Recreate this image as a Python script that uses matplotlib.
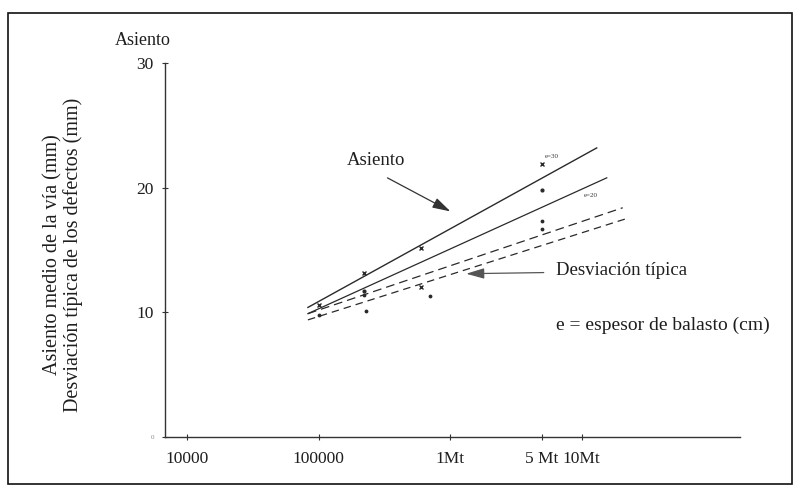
import matplotlib
matplotlib.use('Agg')
import matplotlib.pyplot as plt
import matplotlib.ticker as mticker
from matplotlib.patches import Rectangle

plt.rcParams['font.family'] = ['Liberation Serif', 'DejaVu Serif']

# fitted lines: tonnage (t) vs mm
e30_t = [8.3e4, 1.3e7]
e30_mm = [10.4, 23.2]
e20_t = [8.3e4, 1.55e7]
e20_mm = [9.9, 20.8]
desv_a_t = [8.3e4, 2.05e7]
desv_a_mm = [9.9, 18.4]
desv_b_t = [8.3e4, 2.3e7]
desv_b_mm = [9.4, 17.6]

# measured points
e30_pts_t = [1.0e5, 2.2e5, 6.0e5, 5.0e6]
e30_pts_mm = [10.6, 13.2, 15.2, 21.9]
e20_pts_t = [2.2e5, 5.0e6]
e20_pts_mm = [11.7, 19.8]
desv_pts_t = [1.0e5, 2.2e5, 2.3e5, 7.0e5, 5.0e6, 5.0e6]
desv_pts_mm = [9.8, 11.4, 10.1, 11.3, 17.3, 16.7]
desv_x_t = [6.0e5]
desv_x_mm = [12.0]

xticks = [1e4, 1e5, 1e6, 5e6, 1e7]
xtick_labels = ['10000', '100000', '1Mt', '5 Mt', '10Mt']
yticks = [0, 10, 20, 30]

ink = '#2a2a2a'
txt = '#1e1e1e'

fig = plt.figure(figsize=(7.95, 4.88), dpi=100)
ax = fig.add_axes([0.2075, 0.1045, 0.7235, 0.766])

ax.plot(e30_t, e30_mm, color=ink, lw=1.0)
ax.plot(e20_t, e20_mm, color=ink, lw=0.9)
ax.plot(desv_a_t, desv_a_mm, color=ink, lw=0.9, ls=(0, (7, 4)))
ax.plot(desv_b_t, desv_b_mm, color=ink, lw=0.9, ls=(0, (6, 4)))

ax.plot(e30_pts_t, e30_pts_mm, ls='none', marker='x', ms=3.5, mew=1.0, color=ink)
ax.plot(e20_pts_t, e20_pts_mm, ls='none', marker='.', ms=4, color=ink)
ax.plot(desv_pts_t, desv_pts_mm, ls='none', marker='.', ms=3.5, color=ink)
ax.plot(desv_x_t, desv_x_mm, ls='none', marker='x', ms=3.5, mew=1.0, color=ink)

ax.set_xscale('log')
ax.set_xlim(6.8e3, 1.6e8)
ax.set_ylim(0, 30)

ax.spines['top'].set_visible(False)
ax.spines['right'].set_visible(False)
for s in ('left', 'bottom'):
    ax.spines[s].set_color('#333333')
    ax.spines[s].set_linewidth(1.0)

ax.xaxis.set_major_locator(mticker.FixedLocator(xticks))
ax.xaxis.set_minor_locator(mticker.NullLocator())
ax.set_xticklabels(xtick_labels)
ax.set_yticks(yticks)
ax.set_yticklabels(['0', '10', '20', '30'])
ax.tick_params(axis='both', direction='inout', length=4, width=0.8,
               colors='#333333', labelsize=12.5, labelcolor=txt)
ax.tick_params(axis='x', pad=8)
ax.tick_params(axis='y', pad=6)
ax.get_yticklabels()[0].set_fontsize(5)
ax.get_yticklabels()[0].set_color('#888888')

ax.text(-0.038, 1.061, 'Asiento', transform=ax.transAxes, ha='center',
        va='center', fontsize=13, color=txt)
ax.text(-0.177, 0.487, 'Asiento medio de la vía (mm)\nDesviación típica de los defectos (mm)',
        transform=ax.transAxes, rotation=90, ha='center', va='center',
        fontsize=14.5, color=txt, linespacing=1.05)

# annotations
ax.text(2.75e5, 22.2, 'Asiento', ha='center', va='center', fontsize=13.5, color=txt)
ax.annotate('', xy=(1.05e6, 18.0), xytext=(3.2e5, 20.9),
            arrowprops=dict(arrowstyle='-|>,head_length=1.1,head_width=0.32',
                            color='#333333', lw=0.9))
ax.text(6.4e6, 13.4, 'Desviación típica', ha='left', va='center',
        fontsize=13.5, color=txt)
ax.annotate('', xy=(1.26e6, 13.1), xytext=(5.4e6, 13.2),
            arrowprops=dict(arrowstyle='-|>,head_length=1.1,head_width=0.32',
                            color='#555555', lw=0.9))
ax.text(6.4e6, 9.0, 'e = espesor de balasto (cm)', ha='left', va='center',
        fontsize=14, color=txt)
ax.text(5.2e6, 22.5, 'e=30', fontsize=5, color='#333333', ha='left', va='center')
ax.text(1.03e7, 19.4, 'e=20', fontsize=5, color='#333333', ha='left', va='center')

fig.add_artist(Rectangle((0.01, 0.008), 0.986, 0.965, transform=fig.transFigure,
                         fill=False, lw=1.2, ec='#111111'))

fig.savefig('out.png', dpi=100)
